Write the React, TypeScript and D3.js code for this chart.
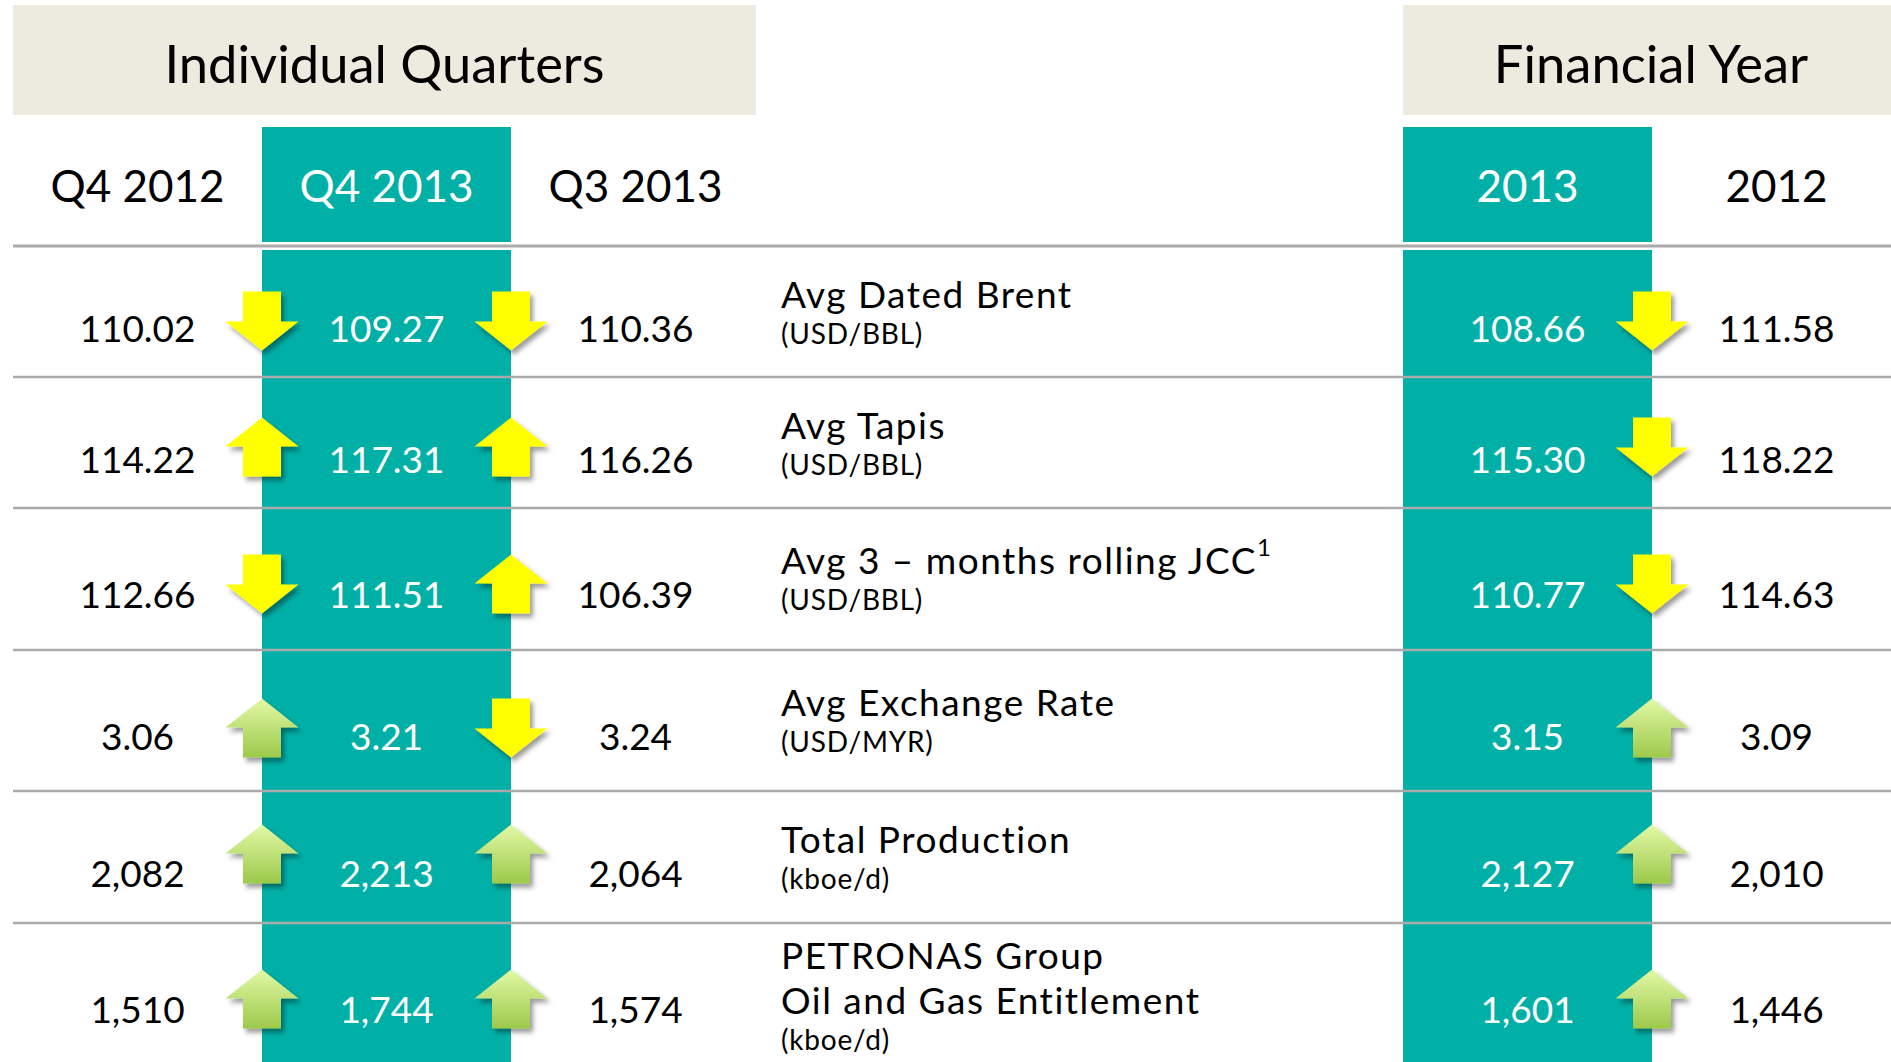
import React from "react";
import * as d3 from "d3";

// ---------- data ----------
const quarterCols = ["Q4 2012", "Q4 2013", "Q3 2013"];
const yearCols = ["2013", "2012"];
const metricLines = [
  ["Avg Dated Brent"],
  ["Avg Tapis"],
  ["Avg 3 – months rolling JCC"],
  ["Avg Exchange Rate"],
  ["Total Production"],
  ["PETRONAS Group", "Oil and Gas Entitlement"],
];
const metricFootnote = ["", "", "1", "", "", ""];
const units = ["(USD/BBL)", "(USD/BBL)", "(USD/BBL)", "(USD/MYR)", "(kboe/d)", "(kboe/d)"];
const metricKind = ["price", "price", "price", "volume", "volume", "volume"];
const q4_2012 = [110.02, 114.22, 112.66, 3.06, 2082, 1510];
const q4_2013 = [109.27, 117.31, 111.51, 3.21, 2213, 1744];
const q3_2013 = [110.36, 116.26, 106.39, 3.24, 2064, 1574];
const fy2013 = [108.66, 115.3, 110.77, 3.15, 2127, 1601];
const fy2012 = [111.58, 118.22, 114.63, 3.09, 2010, 1446];

// ---------- layout ----------
const W = 1891;
const H = 1062;
const rowEdges = [246, 377, 508, 650, 791, 923, 1062];
const TEAL = "#00B0A7";
const BEIGE = "#EDEADF";
const LINE = "#AAAAAA";
const FONT = "Lato, 'Open Sans', sans-serif";

const fmt = (v: number, i: number) => (i < 4 ? d3.format(".2f")(v) : d3.format(",")(v));

function Arrow({ cx, cy, up, green }: { cx: number; cy: number; up: boolean; green: boolean }) {
  const headW = 73, shaftW = 38, total = 59, headH = 29;
  const top = cy - total / 2;
  const bot = cy + total / 2;
  let pts: [number, number][];
  if (up) {
    const mid = top + headH;
    pts = [
      [cx, top], [cx + headW / 2, mid], [cx + shaftW / 2, mid], [cx + shaftW / 2, bot],
      [cx - shaftW / 2, bot], [cx - shaftW / 2, mid], [cx - headW / 2, mid],
    ];
  } else {
    const mid = bot - headH;
    pts = [
      [cx - shaftW / 2, top], [cx + shaftW / 2, top], [cx + shaftW / 2, mid], [cx + headW / 2, mid],
      [cx, bot], [cx - headW / 2, mid], [cx - shaftW / 2, mid],
    ];
  }
  const d = d3.line()(pts) + "Z";
  return <path d={d} fill={green ? "url(#greenGrad)" : "#FFFF00"} filter="url(#shadow)" />;
}

export default function App() {
  const qx = d3.scaleBand<string>().domain(quarterCols).range([13, 760]);
  const yx = d3.scaleBand<string>().domain(yearCols).range([1403, 1901]);
  const rowY = d3.scaleLinear().domain(d3.range(rowEdges.length)).range(rowEdges);
  const rows = d3.range(metricLines.length);
  const cols = [
    { x: qx, key: quarterCols[0], vals: q4_2012, teal: false },
    { x: qx, key: quarterCols[1], vals: q4_2013, teal: true },
    { x: qx, key: quarterCols[2], vals: q3_2013, teal: false },
    { x: yx, key: yearCols[0], vals: fy2013, teal: true },
    { x: yx, key: yearCols[1], vals: fy2012, teal: false },
  ];
  const valueY = (i: number) => rowY(i) + (i === 2 || i === 3 || i === 5 ? 85 : 81);
  const arrowY = (i: number) => valueY(i) + [-6, -11, -9, -7, -18, -9][i];
  const labelX = 781;
  const headerBottom = rowEdges[0];

  const arrowSpecs: { cx: number; a: number[]; b: number[] }[] = [
    { cx: qx(quarterCols[1])!, a: q4_2012, b: q4_2013 },
    { cx: qx(quarterCols[2])!, a: q3_2013, b: q4_2013 },
    { cx: yx(yearCols[1])!, a: fy2012, b: fy2013 },
  ];

  return (
    <svg width={W} height={H} style={{ position: "absolute", left: 0, top: 0, background: "#fff" }} fontFamily={FONT}>
      <defs>
        <linearGradient id="greenGrad" x1="0" y1="0" x2="0" y2="1">
          <stop offset="0" stopColor="#E2F9A6" />
          <stop offset="1" stopColor="#9CC94A" />
        </linearGradient>
        <filter id="shadow" x="-30%" y="-30%" width="160%" height="160%">
          <feDropShadow dx="3" dy="4" stdDeviation="2.5" floodColor="#000" floodOpacity="0.4" />
        </filter>
      </defs>

      {/* header boxes */}
      <rect x={13} y={5} width={743} height={110} fill={BEIGE} />
      <rect x={1403} y={5} width={W - 1403} height={110} fill={BEIGE} />
      <text x={(13 + 756) / 2} y={62} textAnchor="middle" dominantBaseline="central" fontSize={52.5} fill="#000">
        Individual Quarters
      </text>
      <text x={(1403 + W) / 2 + 4} y={62} textAnchor="middle" dominantBaseline="central" fontSize={52.5} fill="#000">
        Financial Year
      </text>

      {/* teal columns */}
      {cols.filter((c) => c.teal).map((c) => (
        <g key={"t" + c.key}>
          <rect x={c.x(c.key)!} y={127} width={c.x.bandwidth()} height={headerBottom - 4 - 127} fill={TEAL} />
          <rect x={c.x(c.key)!} y={headerBottom + 4} width={c.x.bandwidth()} height={H - headerBottom - 4} fill={TEAL} />
        </g>
      ))}

      {/* column headers */}
      {cols.map((c) => (
        <text key={"h" + c.key} x={c.x(c.key)! + c.x.bandwidth() / 2} y={185} textAnchor="middle"
          dominantBaseline="central" fontSize={44} fill={c.teal ? "#fff" : "#000"}>
          {c.key}
        </text>
      ))}

      {/* separators */}
      {rowEdges.slice(0, -1).map((e, i) => (
        <line key={"s" + i} x1={13} x2={W} y1={rowY(i)} y2={rowY(i)} stroke={LINE} strokeWidth={i === 0 ? 3 : 2.5} />
      ))}

      {/* values */}
      {cols.map((c) =>
        rows.map((i) => (
          <text key={c.key + i} x={c.x(c.key)! + c.x.bandwidth() / 2} y={valueY(i)} textAnchor="middle"
            dominantBaseline="central" fontSize={37} fill={c.teal ? "#fff" : "#000"}>
            {fmt(c.vals[i], i)}
          </text>
        ))
      )}

      {/* labels */}
      {rows.map((i) => {
        const lines = metricLines[i];
        const v = valueY(i);
        const firstY = lines.length > 1 ? v - 54 : v - 34;
        return (
          <g key={"l" + i}>
            {lines.map((ln, j) => (
              <text key={j} x={labelX} y={firstY + j * 45} dominantBaseline="central" fontSize={37}
                letterSpacing={1.5} fill="#000">
                {ln}
                {j === lines.length - 1 && metricFootnote[i] ? (
                  <tspan fontSize={24} dy={-13}>{metricFootnote[i]}</tspan>
                ) : null}
              </text>
            ))}
            <text x={labelX} y={firstY + (lines.length - 1) * 45 + 40}
              dominantBaseline="central" fontSize={28} letterSpacing={0.8} fill="#000">
              {units[i]}
            </text>
          </g>
        );
      })}

      {/* arrows */}
      {arrowSpecs.map((s, k) =>
        rows.map((i) => {
          const up = s.b[i] > s.a[i];
          const green = metricKind[i] === "volume" && up;
          return <Arrow key={"a" + k + i} cx={s.cx} cy={arrowY(i)} up={up} green={green} />;
        })
      )}
    </svg>
  );
}
